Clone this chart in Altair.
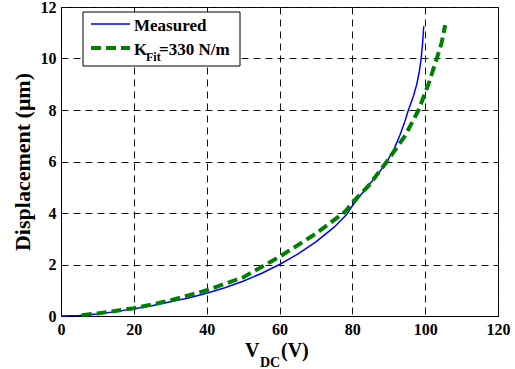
import altair as alt
import pandas as pd

# Measured curve
meas_v = [0, 5, 10, 15, 20, 25, 30, 35, 40, 45, 50, 55, 60, 65, 70, 75, 78.5, 80, 84, 87,
          89.5, 91.5, 93, 94.3, 95.4, 96.7, 97.7, 98.4, 98.9, 99.3, 99.6]
meas_d = [0, 0.02, 0.08, 0.17, 0.28, 0.4, 0.55, 0.7, 0.88, 1.1, 1.35, 1.65, 2.0, 2.4, 2.88, 3.45, 3.95, 4.28, 5.0, 5.5,
          6.0, 6.5, 7.0, 7.5, 8.0, 8.5, 9.0, 9.5, 10.0, 10.6, 11.25]

# Fit curve (K_fit = 330 N/m)
fit_v = [5.7, 10, 20, 30, 40, 50, 60, 70, 78, 80, 84.4, 89.5, 94.5, 98.2, 100.9, 103.2, 104.5, 105.5]
fit_d = [0.03, 0.1, 0.3, 0.6, 1.0, 1.5, 2.3, 3.2, 4.05, 4.4, 5.05, 6.0, 7.0, 8.0, 9.0, 10.0, 10.6, 11.3]

x_ticks = [0, 20, 40, 60, 80, 100, 120]
y_ticks = [0, 2, 4, 6, 8, 10, 12]

FONT = "Liberation Serif"
W, H = 437, 309

meas = pd.DataFrame({"v": meas_v, "d": meas_d})
fit = pd.DataFrame({"v": fit_v, "d": fit_d})

xs = alt.Scale(domain=[0, 120], nice=False, zero=False)
ys = alt.Scale(domain=[0, 12], nice=False, zero=False)

xaxis = alt.Axis(values=x_ticks, title=None, labelPadding=5)
yaxis = alt.Axis(values=y_ticks, title="Displacement (\u03bcm)", labelPadding=5, titlePadding=6)

meas_line = alt.Chart(meas).mark_line(color="#0000ff", strokeWidth=1.5).encode(
    x=alt.X("v:Q", scale=xs, axis=xaxis),
    y=alt.Y("d:Q", scale=ys, axis=yaxis),
    order="v:Q",
)
fit_line = alt.Chart(fit).mark_line(color="#008000", strokeWidth=4, strokeDash=[10, 5]).encode(
    x=alt.X("v:Q", scale=xs),
    y=alt.Y("d:Q", scale=ys),
    order="v:Q",
)

one = pd.DataFrame({"a": [0]})

legend_box = alt.Chart(one).mark_rect(fill="white", stroke="black", strokeWidth=1).encode(
    x=alt.value(22), x2=alt.value(179), y=alt.value(5), y2=alt.value(59))
leg_meas_line = alt.Chart(one).mark_rule(color="#0000ff", strokeWidth=1.5).encode(
    x=alt.value(30), x2=alt.value(69), y=alt.value(17))
leg_fit_line = alt.Chart(one).mark_rule(color="#008000", strokeWidth=4, strokeDash=[10, 5]).encode(
    x=alt.value(30), x2=alt.value(69), y=alt.value(41))


def txt(s, x, y, size, align="left"):
    return alt.Chart(pd.DataFrame({"t": [s]})).mark_text(
        font=FONT, fontSize=size, fontWeight="bold", color="black", align=align,
        baseline="alphabetic").encode(x=alt.value(x), y=alt.value(y), text="t:N")


texts = [
    txt("Measured", 73, 24, 17),
    txt("K", 73, 48, 17),
    txt("Fit", 85, 54, 12),
    txt("=330 N/m", 98, 48, 17),
    txt("V", 184, 350, 20),
    txt("DC", 199, 360, 14),
    txt("(V)", 220, 350, 20),
]

chart = alt.layer(meas_line, fit_line, legend_box, leg_meas_line, leg_fit_line, *texts).properties(
    width=W, height=H,
    autosize=alt.AutoSizeParams(type="none"),
    padding={"left": 61, "top": 7, "right": 17, "bottom": 53},
    background="white",
).configure_view(stroke="black", strokeWidth=1).configure_axis(
    grid=True, gridDash=[7, 5], gridColor="#111", gridOpacity=1, ticks=False,
    domainColor="black", labelFont=FONT, labelFontSize=16, labelFontWeight="bold",
    labelColor="black", labelFlush=False, titleFont=FONT, titleFontSize=22,
    titleFontWeight="bold", titleColor="black",
)

chart.save("out.html", embed_options={"renderer": "svg", "actions": False})
